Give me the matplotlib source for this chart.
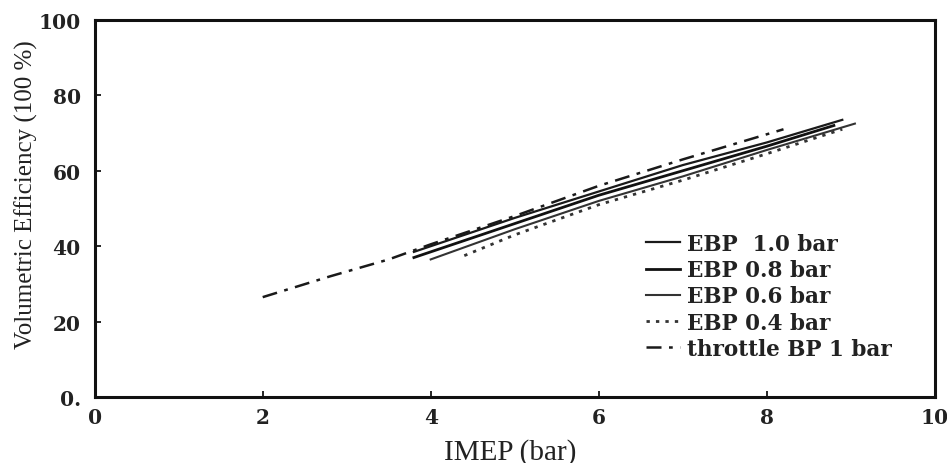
import matplotlib
matplotlib.use("Agg")
import matplotlib.pyplot as plt

# Data
throttle_x = [2.0, 2.8, 3.5, 4.0, 5.0, 6.0, 7.0, 8.2]
throttle_y = [26.5, 32.0, 36.5, 40.5, 48.0, 56.0, 63.0, 71.0]

ebp10_x = [3.8, 5.0, 6.0, 7.0, 8.0, 8.9]
ebp10_y = [38.5, 47.5, 54.5, 61.5, 67.5, 73.5]

ebp08_x = [3.8, 5.0, 6.0, 7.0, 8.0, 8.8]
ebp08_y = [37.0, 46.0, 53.5, 60.0, 66.5, 72.0]

ebp06_x = [4.0, 5.0, 6.0, 7.0, 8.0, 9.05]
ebp06_y = [36.5, 44.5, 52.0, 58.5, 65.5, 72.5]

ebp04_x = [4.4, 5.0, 6.0, 7.0, 8.0, 8.9]
ebp04_y = [37.5, 43.0, 51.0, 57.5, 64.5, 71.0]

x_ticks = [0, 2, 4, 6, 8, 10]
y_ticks = [0, 20, 40, 60, 80, 100]
y_ticklabels = ["0.", "20", "40", "60", "80", "100"]

plt.rcParams['font.family'] = ['Liberation Serif', 'DejaVu Serif']

fig = plt.figure(figsize=(9.47, 4.64), dpi=100)
ax = fig.add_axes([0.100, 0.142, 0.887, 0.813])

ax.plot(ebp10_x, ebp10_y, color='#1a1a1a', lw=1.6, ls='-', label='EBP  1.0 bar')
ax.plot(ebp08_x, ebp08_y, color='#111111', lw=2.0, ls='-', label='EBP 0.8 bar')
ax.plot(ebp06_x, ebp06_y, color='#333333', lw=1.5, ls='-', label='EBP 0.6 bar')
ax.plot(ebp04_x, ebp04_y, color='#333333', lw=2.0, ls=(0, (1.2, 2.2)), label='EBP 0.4 bar')
ax.plot(throttle_x, throttle_y, color='#1a1a1a', lw=1.8, ls=(0, (6, 3, 1.5, 3)), label='throttle BP 1 bar')

ax.set_xlim(0, 10)
ax.set_ylim(0, 100)
ax.set_xticks(x_ticks)
ax.set_xticklabels([str(t) for t in x_ticks])
ax.set_yticks(y_ticks)
ax.set_yticklabels(y_ticklabels)
ax.tick_params(direction='in', length=4, width=1.2)
ax.tick_params(axis='x', pad=7)
ax.tick_params(axis='y', pad=10)
for lab in ax.get_xticklabels() + ax.get_yticklabels():
    lab.set_fontfamily('DejaVu Serif')
    lab.set_fontweight('bold')
    lab.set_fontsize(14.5)
    lab.set_color('#222222')

for s in ax.spines.values():
    s.set_linewidth(2.2)
    s.set_color('#111111')

ax.set_xlabel('IMEP (bar)', fontsize=21, color='#222222')
ax.xaxis.set_label_coords(0.495, -0.108)
ax.set_ylabel('Volumetric Efficiency (100 %)', fontsize=18, color='#222222')
ax.yaxis.set_label_coords(-0.068, 0.54)

leg = ax.legend(loc='upper left', bbox_to_anchor=(0.633, 0.487), frameon=False,
                handlelength=1.6, handletextpad=0.3, labelspacing=0.2,
                prop={'family': 'DejaVu Serif', 'weight': 'bold', 'size': 15.5})
for t in leg.get_texts():
    t.set_color('#222222')

fig.savefig('out.png', dpi=100)
